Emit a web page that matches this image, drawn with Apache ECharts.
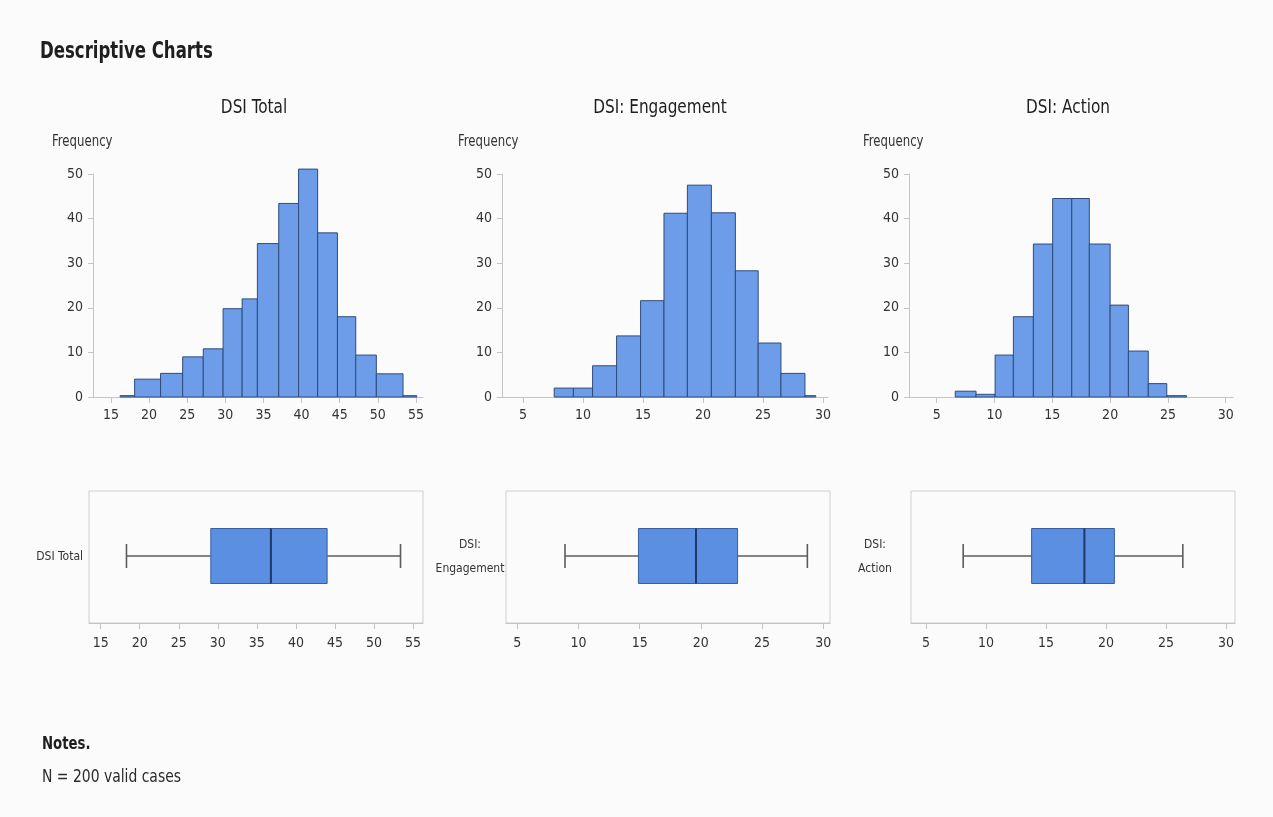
<!DOCTYPE html>
<html><head><meta charset="utf-8">
<script src="https://cdn.jsdelivr.net/npm/echarts@6/dist/echarts.min.js"></script>
<style>html,body{margin:0;padding:0;background:#fbfbfb}#c{width:1273px;height:817px}</style>
</head><body><div id="c"></div>
<script>
// ---- data ----
const panelTitles = ['DSI Total', 'DSI: Engagement', 'DSI: Action'];
const boxLabels = ['DSI Total', 'DSI:\nEngagement', 'DSI:\nAction'];

const totalEdges  = [16.2, 18.1, 21.5, 24.4, 27.1, 29.7, 32.2, 34.2, 37.0, 39.6, 42.1, 44.7, 47.1, 49.8, 53.3, 55.1];
const totalCounts = [0.3, 4, 5.3, 9, 10.8, 19.8, 22, 34.4, 43.4, 51.1, 36.8, 18, 9.4, 5.2, 0.3];

const engEdges  = [7.6, 9.2, 10.8, 12.8, 14.8, 16.75, 18.7, 20.7, 22.7, 24.6, 26.5, 28.5, 29.4];
const engCounts = [2, 2, 7, 13.7, 21.6, 41.2, 47.5, 41.3, 28.3, 12.1, 5.3, 0.3];

const actEdges  = [6.6, 8.4, 10.05, 11.63, 13.36, 15.03, 16.68, 18.2, 20.0, 21.58, 23.3, 24.9, 26.6];
const actCounts = [1.3, 0.6, 9.4, 18, 34.3, 44.5, 44.5, 34.3, 20.6, 10.3, 3, 0.3];

// box: [min, q1, median, q3, max]
const totalBox = [18.3, 29.1, 36.8, 44.0, 53.4];
const engBox   = [8.9, 14.9, 19.6, 23.0, 28.7];
const actBox   = [8.1, 13.8, 18.2, 20.7, 26.4];

const yTicks = [0, 10, 20, 30, 40, 50];
const totalTicks = [15, 20, 25, 30, 35, 40, 45, 50, 55];
const subTicks = [5, 10, 15, 20, 25, 30];

// ---- rendering ----
const FONT = "'DejaVu Sans Condensed', 'Liberation Sans Narrow', sans-serif";
const TXT = '#333333';
const AX = '#c4c4c4';

function histData(edges, counts) {
  return counts.map((c, i) => [edges[i], edges[i + 1], c]);
}

const panels = [
  { hist: histData(totalEdges, totalCounts), box: totalBox, ticks: totalTicks,
    hGrid: {left: 93, top: 174, width: 330, height: 223}, hMin: 12.64, hMax: 55.92,
    bGrid: {left: 89, top: 491, width: 334, height: 132}, bMin: 13.5, bMax: 56.28,
    lblMargin: 6, lblAlign: 'right' },
  { hist: histData(engEdges, engCounts), box: engBox, ticks: subTicks,
    hGrid: {left: 502, top: 174, width: 326, height: 223}, hMin: 3.25, hMax: 30.42,
    bGrid: {left: 506, top: 491, width: 324, height: 132}, bMin: 4.08, bMax: 30.55,
    lblMargin: 36, lblAlign: 'center' },
  { hist: histData(actEdges, actCounts), box: actBox, ticks: subTicks,
    hGrid: {left: 909, top: 174, width: 324, height: 223}, hMin: 2.6, hMax: 30.63,
    bGrid: {left: 911, top: 491, width: 324, height: 132}, bMin: 3.75, bMax: 30.75,
    lblMargin: 36, lblAlign: 'center' }
];

const grid = [], xAxis = [], yAxis = [], series = [];
panels.forEach((p, i) => {
  // histogram
  grid.push(Object.assign({containLabel: false}, p.hGrid));
  xAxis.push({
    type: 'value', gridIndex: grid.length - 1, min: p.hMin, max: p.hMax,
    axisLine: {show: true, lineStyle: {color: AX, width: 1}},
    axisTick: {show: true, length: 6, customValues: p.ticks, lineStyle: {color: AX}},
    axisLabel: {customValues: p.ticks, fontSize: 14, color: TXT, fontFamily: FONT, margin: 11},
    splitLine: {show: false}
  });
  yAxis.push({
    type: 'value', gridIndex: grid.length - 1, min: 0, max: 50, interval: 10,
    axisLine: {show: true, lineStyle: {color: AX, width: 1}},
    axisTick: {show: true, length: 5, lineStyle: {color: AX}},
    axisLabel: {fontSize: 14, color: TXT, fontFamily: FONT, margin: 10},
    splitLine: {show: false}
  });
  series.push({
    type: 'custom', xAxisIndex: xAxis.length - 1, yAxisIndex: yAxis.length - 1,
    data: p.hist, encode: {x: [0, 1], y: 2},
    renderItem: function (params, api) {
      const a = api.coord([api.value(0), api.value(2)]);
      const b = api.coord([api.value(1), 0]);
      return {type: 'rect', shape: {x: a[0], y: a[1], width: b[0] - a[0], height: b[1] - a[1]},
        style: {fill: '#6d9de9', stroke: '#2e4b7c', lineWidth: 1}};
    }
  });
  // boxplot
  grid.push(Object.assign({show: true, borderColor: '#cfcfcf', borderWidth: 1, backgroundColor: 'transparent'}, p.bGrid));
  xAxis.push({
    type: 'value', gridIndex: grid.length - 1, min: p.bMin, max: p.bMax,
    axisLine: {show: true, lineStyle: {color: AX, width: 1}},
    axisTick: {show: true, length: 6, customValues: p.ticks, lineStyle: {color: AX}},
    axisLabel: {customValues: p.ticks, fontSize: 14, color: TXT, fontFamily: FONT, margin: 13},
    splitLine: {show: false}
  });
  yAxis.push({
    type: 'category', gridIndex: grid.length - 1, data: [boxLabels[i]],
    axisLine: {show: false}, axisTick: {show: false},
    axisLabel: {fontSize: 12, color: TXT, fontFamily: FONT, margin: p.lblMargin, align: p.lblAlign, lineHeight: 24}
  });
  series.push({
    type: 'custom', xAxisIndex: xAxis.length - 1, yAxisIndex: yAxis.length - 1,
    data: [[0].concat(p.box)], encode: {y: 0, x: [1, 2, 3, 4, 5]},
    renderItem: function (params, api) {
      const c = api.value(0);
      const pMin = api.coord([api.value(1), c]);
      const pQ1 = api.coord([api.value(2), c]);
      const pMed = api.coord([api.value(3), c]);
      const pQ3 = api.coord([api.value(4), c]);
      const pMax = api.coord([api.value(5), c]);
      const cy = pMin[1] - 1, hb = 27.5, hc = 12;
      const ws = {stroke: '#5c5c5c', lineWidth: 1.6};
      return {type: 'group', children: [
        {type: 'line', shape: {x1: pMin[0], y1: cy, x2: pQ1[0], y2: cy}, style: ws},
        {type: 'line', shape: {x1: pQ3[0], y1: cy, x2: pMax[0], y2: cy}, style: ws},
        {type: 'line', shape: {x1: pMin[0], y1: cy - hc, x2: pMin[0], y2: cy + hc}, style: ws},
        {type: 'line', shape: {x1: pMax[0], y1: cy - hc, x2: pMax[0], y2: cy + hc}, style: ws},
        {type: 'rect', shape: {x: pQ1[0], y: cy - hb, width: pQ3[0] - pQ1[0], height: 2 * hb},
          style: {fill: '#5b8fe2', stroke: '#3a5f9f', lineWidth: 1}},
        {type: 'line', shape: {x1: pMed[0], y1: cy - hb, x2: pMed[0], y2: cy + hb},
          style: {stroke: '#1d3766', lineWidth: 2}}
      ]};
    }
  });
});

const titleCenters = [254, 660, 1068];
const freqLeft = [52, 458, 863];
const graphic = [
  {type: 'text', x: 40, y: 52, scaleX: 0.8,
    style: {text: 'Descriptive Charts', font: "bold 23px " + FONT, fill: '#1e1e1e', textVerticalAlign: 'middle'}},
  {type: 'text', x: 42, y: 744, scaleX: 0.82,
    style: {text: 'Notes.', font: "bold 18px " + FONT, fill: '#1e1e1e', textVerticalAlign: 'middle'}},
  {type: 'text', x: 42, y: 777, scaleX: 0.86,
    style: {text: 'N = 200 valid cases', font: "18px " + FONT, fill: '#2b2b2b', textVerticalAlign: 'middle'}}
];
panelTitles.forEach((t, i) => {
  graphic.push({type: 'text', x: titleCenters[i], y: 108, scaleX: 0.85,
    style: {text: t, font: "20px " + FONT, fill: '#1e1e1e', textAlign: 'center', textVerticalAlign: 'middle'}});
  graphic.push({type: 'text', x: freqLeft[i], y: 142, scaleX: 0.87,
    style: {text: 'Frequency', font: "15px " + FONT, fill: TXT, textAlign: 'left', textVerticalAlign: 'middle'}});
});

const chart = echarts.init(document.getElementById('c'), null, {renderer: 'canvas'});
chart.setOption({
  backgroundColor: '#fbfbfb',
  animation: false,
  grid, xAxis, yAxis, series, graphic
});
</script>
</body></html>
